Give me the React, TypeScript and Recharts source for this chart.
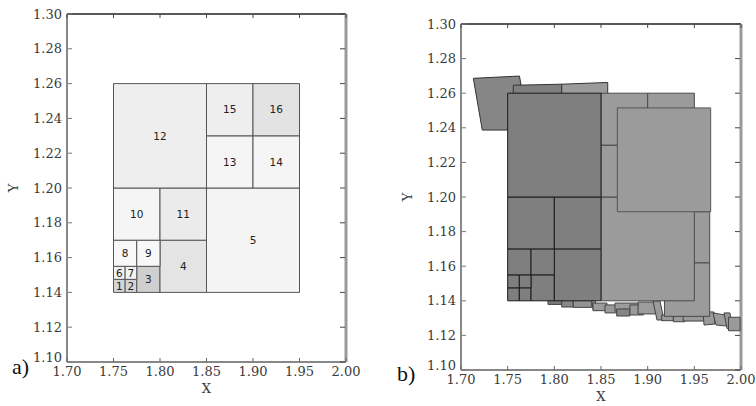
import React from "react";
import { ScatterChart, Scatter, XAxis, YAxis } from "recharts";

type Pt = { x: number; y: number };
type Cell = [string, number, number, number, number]; // id, x0, x1, y0, y1
type Poly = [number, number][];

const xTicks = [1.7, 1.75, 1.8, 1.85, 1.9, 1.95, 2.0];
const yTicks = [1.1, 1.12, 1.14, 1.16, 1.18, 1.2, 1.22, 1.24, 1.26, 1.28, 1.3];

// quadtree cells of panel a
const cells: Cell[] = [
  ["1", 1.75, 1.7625, 1.14, 1.1475],
  ["2", 1.7625, 1.775, 1.14, 1.1475],
  ["3", 1.775, 1.8, 1.14, 1.155],
  ["4", 1.8, 1.85, 1.14, 1.17],
  ["5", 1.85, 1.95, 1.14, 1.2],
  ["6", 1.75, 1.7625, 1.1475, 1.155],
  ["7", 1.7625, 1.775, 1.1475, 1.155],
  ["8", 1.75, 1.775, 1.155, 1.17],
  ["9", 1.775, 1.8, 1.155, 1.17],
  ["10", 1.75, 1.8, 1.17, 1.2],
  ["11", 1.8, 1.85, 1.17, 1.2],
  ["12", 1.75, 1.85, 1.2, 1.26],
  ["13", 1.85, 1.9, 1.2, 1.23],
  ["14", 1.9, 1.95, 1.2, 1.23],
  ["15", 1.85, 1.9, 1.23, 1.26],
  ["16", 1.9, 1.95, 1.23, 1.26],
];

const shadeA: Record<string, string> = {
  "1": "#d5d5d5", "2": "#d5d5d5", "3": "#cfcfcf", "4": "#e4e4e4",
  "5": "#f4f4f4", "6": "#f2f2f2", "7": "#f2f2f2", "8": "#f8f8f8",
  "9": "#f8f8f8", "10": "#f5f5f5", "11": "#ebebeb", "12": "#eeeeee",
  "13": "#f5f5f5", "14": "#f5f5f5", "15": "#eeeeee", "16": "#e3e3e3",
};

// panel b
const darkIds = ["1", "2", "3", "4", "6", "7", "8", "9", "10", "11", "12"];
const lightIds = ["5", "13", "14", "15", "16"];

const shiftedRects: [number, number, number, number][] = [
  [1.918, 1.9665, 1.131, 1.162],
  [1.918, 1.9665, 1.162, 1.1915],
];
const coverRect: [number, number, number, number] = [1.8675, 1.9675, 1.1915, 1.2515];

const topPieces: Poly[] = [
  [[1.7132, 1.2686], [1.7626, 1.2699], [1.7734, 1.2387], [1.7228, 1.2387]],
  [[1.756, 1.2646], [1.8082, 1.2652], [1.8082, 1.258], [1.756, 1.258]],
  [[1.8079, 1.2652], [1.8572, 1.2662], [1.8572, 1.25], [1.8079, 1.25]],
];
const topTone = ["#868686", "#7f7f7f", "#9b9b9b"];

const bottomPieces: Poly[] = [
  [[1.7932, 1.1405], [1.8082, 1.1405], [1.8082, 1.1379], [1.7932, 1.1379]],
  [[1.8079, 1.1405], [1.8203, 1.1405], [1.8203, 1.1364], [1.8079, 1.1364]],
  [[1.8203, 1.1405], [1.84, 1.1405], [1.84, 1.1362], [1.8203, 1.1362]],
  [[1.84, 1.1405], [1.8437, 1.1405], [1.8458, 1.1347], [1.8416, 1.1347]],
  [[1.8414, 1.1387], [1.8564, 1.1387], [1.8564, 1.1343], [1.8414, 1.1343]],
  [[1.8543, 1.1376], [1.8671, 1.1376], [1.8671, 1.133], [1.8543, 1.133]],
  [[1.865, 1.1387], [1.895, 1.1387], [1.895, 1.134], [1.865, 1.134]],
  [[1.8668, 1.1353], [1.881, 1.1353], [1.881, 1.1312], [1.8668, 1.1312]],
  [[1.881, 1.1376], [1.8953, 1.1376], [1.8953, 1.1318], [1.881, 1.1318]],
  [[1.8897, 1.1393], [1.91, 1.1393], [1.91, 1.1324], [1.8897, 1.1324]],
  [[1.9057, 1.1399], [1.9132, 1.1399], [1.9175, 1.1289], [1.91, 1.1289]],
  [[1.915, 1.1318], [1.9275, 1.1318], [1.9275, 1.1285], [1.915, 1.1285]],
  [[1.9275, 1.1312], [1.94, 1.1312], [1.94, 1.1279], [1.9275, 1.1279]],
  [[1.938, 1.1318], [1.965, 1.1318], [1.965, 1.1283], [1.938, 1.1283]],
  [[1.9593, 1.1337], [1.9711, 1.1335], [1.9721, 1.1266], [1.9604, 1.126]],
  [[1.97, 1.133], [1.9829, 1.1318], [1.985, 1.1254], [1.9732, 1.126]],
  [[1.9818, 1.133], [1.9882, 1.133], [1.9904, 1.124], [1.985, 1.124]],
  [[1.9866, 1.1305], [1.999, 1.1305], [1.999, 1.1227], [1.9866, 1.1227]],
];
const bottomTone = [
  "#7a7a7a", "#888888", "#949494", "#9a9a9a", "#9c9c9c", "#9a9a9a",
  "#9c9c9c", "#858585", "#9a9a9a", "#9c9c9c", "#9a9a9a", "#9a9a9a",
  "#9c9c9c", "#9a9a9a", "#9a9a9a", "#9c9c9c", "#979797", "#9a9a9a",
];

const DARK = "#7f7f7f";
const LIGHT = "#9b9b9b";

const tickFont = { fontFamily: '"DejaVu Serif", serif', fontSize: 13, fill: "#3a3a3a" };
const fmt = (v: number) => v.toFixed(2);

const rectPts = (x0: number, x1: number, y0: number, y1: number): Pt[] => [
  { x: x0, y: y0 }, { x: x1, y: y0 }, { x: x1, y: y1 }, { x: x0, y: y1 },
];
const polyPts = (p: Poly): Pt[] => p.map(([x, y]) => ({ x, y }));
const cellById = (id: string) => cells.find((c) => c[0] === id)!;

const drawPoly = (key: string, pts: Pt[], fill: string, stroke: string) => (
  <Scatter
    key={key}
    data={pts}
    isAnimationActive={false}
    shape={() => <g />}
    line={(lp: any) => (
      <polygon
        points={lp.points.map((q: Pt) => `${q.x},${q.y}`).join(" ")}
        fill={fill}
        stroke={stroke}
        strokeWidth={1}
      />
    )}
  />
);

const BottomTick = (p: any) => (
  <g>
    <line x1={p.x} x2={p.x} y1={p.y - 4} y2={p.y - 8} stroke="#666" />
    <text x={p.x} y={p.y} dy="0.78em" textAnchor="middle" style={tickFont}>
      {fmt(p.payload.value)}
    </text>
  </g>
);
const LeftTick = (p: any) => (
  <g>
    <line x1={p.x + 6} x2={p.x + 10} y1={p.y} y2={p.y} stroke="#777" />
    <text
      x={p.x}
      y={p.y - (p.index === 0 ? 5 : 0)}
      dy="0.36em"
      textAnchor="end"
      style={tickFont}
    >
      {fmt(p.payload.value)}
    </text>
  </g>
);
const RightTick = (p: any) => (
  <line x1={p.x - 6} x2={p.x - 1} y1={p.y} y2={p.y} stroke="#444" />
);
const TopTick = (p: any) => (
  <line x1={p.x} x2={p.x} y1={p.y} y2={p.y + 4} stroke="#444" />
);

const axes = (yLabelOffset: number, yWidth: number) => [
  <XAxis
    key="xb"
    type="number"
    dataKey="x"
    domain={[1.7, 2.0]}
    allowDataOverflow
    ticks={xTicks}
    interval={0}
    height={21}
    tickSize={0}
    tickMargin={4}
    tickLine={false}
    tick={BottomTick}
    axisLine={{ stroke: "#888", strokeWidth: 2 }}
    label={{ value: "X", position: "bottom", offset: 1, style: tickFont }}
  />,
  <XAxis
    key="xt"
    xAxisId="t"
    orientation="top"
    type="number"
    dataKey="x"
    domain={[1.7, 2.0]}
    allowDataOverflow
    ticks={xTicks}
    interval={0}
    height={1}
    tickSize={0}
    tickMargin={0}
    tickLine={false}
    tick={TopTick}
    axisLine={{ stroke: "#222", strokeWidth: 1.5 }}
  />,
  <YAxis
    key="yl"
    type="number"
    dataKey="y"
    domain={[1.1, 1.3]}
    allowDataOverflow
    ticks={yTicks}
    interval={0}
    width={yWidth}
    tickSize={0}
    tickMargin={5}
    tickLine={false}
    tick={LeftTick}
    axisLine={{ stroke: "#888", strokeWidth: 2 }}
    label={{
      value: "Y",
      angle: -90,
      position: "insideLeft",
      offset: yLabelOffset,
      style: { ...tickFont, textAnchor: "middle" },
    }}
  />,
  <YAxis
    key="yr"
    yAxisId="r"
    orientation="right"
    type="number"
    dataKey="y"
    domain={[1.1, 1.3]}
    allowDataOverflow
    ticks={yTicks}
    interval={0}
    width={1}
    tickSize={0}
    tickMargin={0}
    tickLine={false}
    tick={RightTick}
    axisLine={{ stroke: "#9a9a9a", strokeWidth: 3 }}
  />,
  // keeps the frame axes (top, right) bound to a series
  <Scatter
    key="frame"
    xAxisId="t"
    yAxisId="r"
    data={[{ x: 1.7, y: 1.1 }]}
    isAnimationActive={false}
    shape={() => <g />}
  />,
];

const labelPoints = cells.map(([id, x0, x1, y0, y1]) => ({
  x: (x0 + x1) / 2,
  y: (y0 + y1) / 2,
  label: id,
}));

const PanelA = () => (
  <ScatterChart width={378} height={406} margin={{ top: 13, right: 31, bottom: 23, left: 0 }}>
    {axes(13, 67)}
    {cells.map(([id, x0, x1, y0, y1]) =>
      drawPoly("a" + id, rectPts(x0, x1, y0, y1), shadeA[id], "#555")
    )}
    <Scatter
      data={labelPoints}
      isAnimationActive={false}
      shape={(p: any) => (
        <text
          x={p.cx}
          y={p.cy}
          dy="0.36em"
          textAnchor="middle"
          style={{ fontFamily: '"DejaVu Sans", sans-serif', fontSize: 10.5, fill: "#222" }}
        >
          {p.payload.label}
        </text>
      )}
    />
  </ScatterChart>
);

const PanelB = () => (
  <ScatterChart width={378} height={406} margin={{ top: 23, right: 14, bottom: 15, left: 0 }}>
    {axes(29, 83)}
    {bottomPieces.map((p, i) => drawPoly("bp" + i, polyPts(p), bottomTone[i], "#444"))}
    {topPieces.map((p, i) => drawPoly("tp" + i, polyPts(p), topTone[i], "#333"))}
    {shiftedRects.map(([x0, x1, y0, y1], i) =>
      drawPoly("sr" + i, rectPts(x0, x1, y0, y1), LIGHT, "#4a4a4a")
    )}
    {lightIds.map((id) => {
      const [, x0, x1, y0, y1] = cellById(id);
      return drawPoly("l" + id, rectPts(x0, x1, y0, y1), LIGHT, "#4a4a4a");
    })}
    {drawPoly("cover", rectPts(...coverRect), LIGHT, "#555")}
    {darkIds.map((id) => {
      const [, x0, x1, y0, y1] = cellById(id);
      return drawPoly("d" + id, rectPts(x0, x1, y0, y1), DARK, "#1c1c1c");
    })}
  </ScatterChart>
);

export default function App() {
  const tag = { fontFamily: '"Liberation Serif", serif', fontSize: 22, fill: "#111" };
  return (
    <div style={{ position: "absolute", left: 0, top: 0, width: 756, height: 406, background: "#fff" }}>
      <div style={{ position: "absolute", left: 0, top: 0 }}>
        <PanelA />
      </div>
      <div style={{ position: "absolute", left: 378, top: 0 }}>
        <PanelB />
      </div>
      <svg
        width={756}
        height={406}
        style={{ position: "absolute", left: 0, top: 0, pointerEvents: "none" }}
      >
        <text x={12} y={374} style={tag}>a)</text>
        <text x={397} y={381} style={tag}>b)</text>
      </svg>
    </div>
  );
}
